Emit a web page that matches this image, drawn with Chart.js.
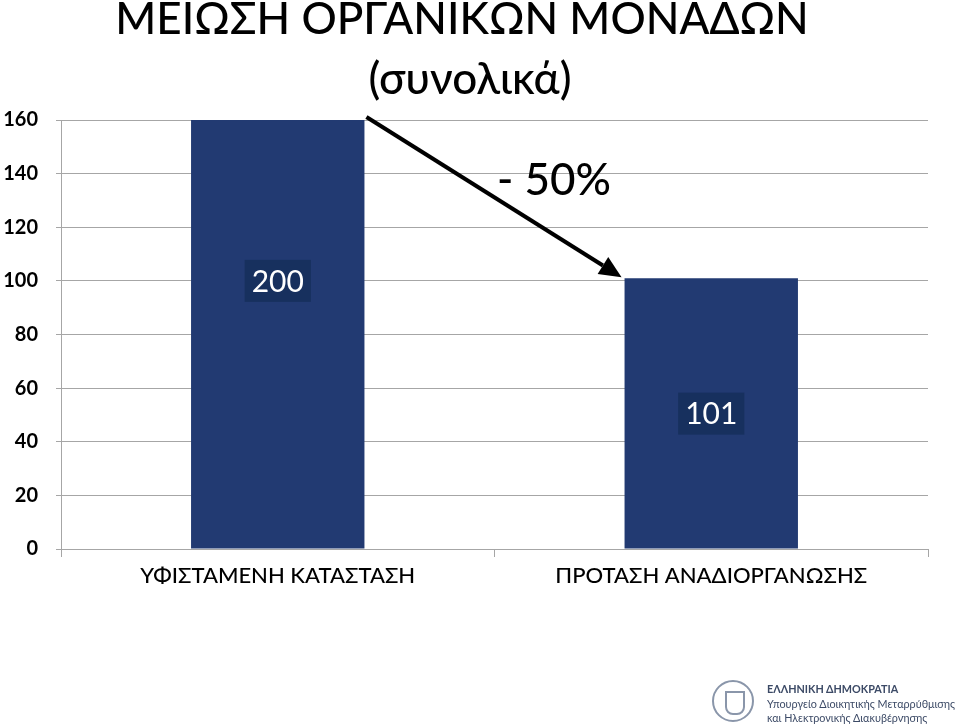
<!DOCTYPE html>
<html><head><meta charset="utf-8">
<script src="https://cdn.jsdelivr.net/npm/chart.js@4/dist/chart.umd.min.js"></script>
<style>
body{margin:0;background:#fff;font-family:Lato,"Open Sans",sans-serif}
#wrap{position:relative;width:960px;height:728px;overflow:hidden}
#logo{position:absolute;left:712px;top:678px;width:248px;height:48px}
#logo .em{position:absolute;left:0;top:2px;width:42px;height:42px;border-radius:50%;border:2px solid #8a96aa;box-sizing:border-box}
#logo .em:after{content:"";position:absolute;left:11px;top:9px;width:16px;height:20px;border:2px solid #8a96aa;border-radius:0 0 8px 8px}
#logo .t{position:absolute;left:55px;top:4px;font-size:10.8px;line-height:14.5px;color:#3c4a66;white-space:nowrap}
</style></head><body>
<div id="wrap"><canvas id="c" width="960" height="728"></canvas>
<div id="logo"><div class="em"></div><div class="t"><b>ΕΛΛΗΝΙΚΗ ΔΗΜΟΚΡΑΤΙΑ</b><br>Υπουργείο Διοικητικής Μεταρρύθμισης<br>και Ηλεκτρονικής Διακυβέρνησης</div></div>
</div>
<script>
const categories = ["ΥΦΙΣΤΑΜΕΝΗ ΚΑΤΑΣΤΑΣΗ", "ΠΡΟΤΑΣΗ ΑΝΑΔΙΟΡΓΑΝΩΣΗΣ"];
const units = [200, 101];
const yTicks = [0, 20, 40, 60, 80, 100, 120, 140, 160];
const changeLabel = "- 50%";
const titleLines = ["ΜΕΙΩΣΗ ΟΡΓΑΝΙΚΩΝ ΜΟΝΑΔΩΝ", "(συνολικά)"];

const FONT = 'Lato, "Open Sans", sans-serif';

const extras = {
  id: 'extras',
  afterDatasetsDraw(chart) {
    const ctx = chart.ctx;
    const y = chart.scales.y;
    const bars = chart.getDatasetMeta(0).data;
    ctx.save();
    // title
    ctx.fillStyle = '#000';
    ctx.textAlign = 'center';
    ctx.textBaseline = 'alphabetic';
    ctx.font = '500 44px ' + FONT;
    ctx.fillText(titleLines[0], 462, 34);
    ctx.fillText(titleLines[1], 470, 94);
    // value labels
    ctx.font = '30px ' + FONT;
    ctx.textBaseline = 'middle';
    bars.forEach((b, i) => {
      const cy = y.getPixelForValue(units[i] / 2);
      const txt = String(units[i]);
      const w = ctx.measureText(txt).width + 14;
      ctx.fillStyle = '#17305e';
      ctx.fillRect(b.x - w / 2, cy - 21, w, 42);
      ctx.fillStyle = '#fff';
      ctx.fillText(txt, b.x, cy + 1);
    });
    // arrow
    const b0 = bars[0], b1 = bars[1];
    const x0 = b0.x + b0.width / 2 + 2, y0 = chart.chartArea.top - 3;
    const x1 = b1.x - b1.width / 2 - 3, y1 = y.getPixelForValue(units[1]) - 1;
    const ang = Math.atan2(y1 - y0, x1 - x0);
    const hl = 22, hw = 10;
    const bx = x1 - hl * Math.cos(ang), by = y1 - hl * Math.sin(ang);
    ctx.strokeStyle = '#000';
    ctx.lineWidth = 4;
    ctx.beginPath(); ctx.moveTo(x0, y0); ctx.lineTo(bx, by); ctx.stroke();
    ctx.fillStyle = '#000';
    ctx.beginPath();
    ctx.moveTo(x1, y1);
    ctx.lineTo(bx + hw * Math.sin(ang), by - hw * Math.cos(ang));
    ctx.lineTo(bx - hw * Math.sin(ang), by + hw * Math.cos(ang));
    ctx.closePath(); ctx.fill();
    // change label
    ctx.font = '500 44px ' + FONT;
    ctx.textAlign = 'center';
    ctx.fillText(changeLabel, 554, 181);
    ctx.restore();
  }
};

new Chart(document.getElementById('c'), {
  type: 'bar',
  data: {
    labels: categories,
    datasets: [{ data: units, backgroundColor: '#223a72', barPercentage: 0.4, categoryPercentage: 1 }]
  },
  options: {
    responsive: false,
    animation: false,
    layout: { padding: { top: 120, right: 32, bottom: 0, left: 0 } },
    plugins: { legend: { display: false }, tooltip: { enabled: false } },
    scales: {
      x: {
        grid: { display: true, color: '#a6a6a6', lineWidth: 1, drawOnChartArea: false, tickLength: 8, offset: true },
        border: { color: '#a6a6a6' },
        ticks: { color: '#000', font: { family: FONT, size: 22, weight: '500' }, padding: 6, maxRotation: 0 },
        afterFit(s) { s.height = 179; }
      },
      y: {
        min: 0, max: 160,
        afterBuildTicks(s) { s.ticks = yTicks.map(v => ({ value: v })); },
        grid: { color: '#a6a6a6', tickLength: 5 },
        border: { color: '#a6a6a6' },
        ticks: { color: '#000', font: { family: FONT, size: 20, weight: 'bold' }, padding: 18 },
        afterFit(s) { s.width = 61; }
      }
    }
  },
  plugins: [extras]
});
</script>
</body></html>
